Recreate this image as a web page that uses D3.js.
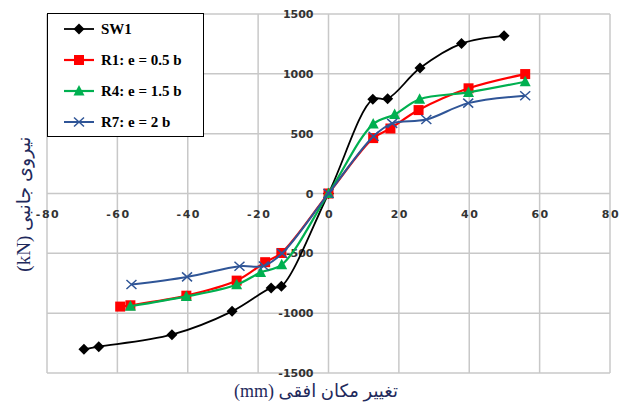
<!DOCTYPE html>
<html><head><meta charset="utf-8">
<script src="https://cdn.jsdelivr.net/npm/d3@7"></script>
<style>body{margin:0;background:#fff}svg{display:block}</style>
</head><body>
<svg id="c" width="626" height="403"></svg>
<script>
const xTicks = [-80,-60,-40,-20,0,20,40,60,80];
const yTicks = [-1500,-1000,-500,0,500,1000,1500];

const seriesNames = ["SW1","R1: e = 0.5 b","R4: e = 1.5 b","R7: e = 2 b"];
const sw1X = [-69.5,-65.3,-44.5,-27.4,-16.3,-13.4,0,12.6,16.8,26.0,37.8,49.9];
const sw1Y = [-1302,-1280,-1180,-985,-789,-775,0,787,792,1048,1253,1318];
const r1X = [-59.2,-56.3,-40.4,-26.1,-18.0,-13.4,0,12.7,17.6,25.6,39.8,55.9];
const r1Y = [-945,-934,-854,-728,-574,-497,0,463,543,697,879,998];
const r4X = [-56.3,-40.4,-26.1,-19.3,-13.3,0,12.7,18.8,25.9,39.8,55.9];
const r4Y = [-942,-860,-762,-660,-595,0,580,660,788,845,934];
const r7X = [-56.0,-40.2,-25.3,-18.4,-13.2,0,12.8,18.1,27.8,39.7,55.9];
const r7Y = [-760,-697,-608,-606,-500,0,478,586,618,755,817];

const xTitle = "تغییر مکان افقی (mm)";
const yTitle = "نیروی جانبی (kN)";

const svg = d3.select("#c");
const x = d3.scaleLinear().domain([-80,80]).range([47,610]);
const y = d3.scaleLinear().domain([-1500,1500]).range([373,14]);

// grid
const g = svg.append("g");
g.selectAll(".vx").data(xTicks).enter().append("line")
  .attr("x1",d=>x(d)).attr("x2",d=>x(d)).attr("y1",y(1500)).attr("y2",y(-1500))
  .attr("stroke","#c8c8c8").attr("stroke-width",1.5);
g.selectAll(".hy").data(yTicks).enter().append("line")
  .attr("y1",d=>y(d)).attr("y2",d=>y(d)).attr("x1",x(-80)).attr("x2",x(80))
  .attr("stroke","#c8c8c8").attr("stroke-width",1.5);

// tick labels
g.selectAll(".xl").data(xTicks).enter().append("text")
  .attr("x",d=>x(d)+1).attr("y",y(0)+24)
  .attr("text-anchor","middle")
  .attr("font-family","DejaVu Sans").attr("font-weight","bold").attr("font-size",11)
  .attr("letter-spacing",1.5)
  .attr("fill","#333").text(d=>d);
g.selectAll(".yl").data(yTicks).enter().append("text")
  .attr("x",x(0)-15).attr("y",d=>y(d)+4)
  .attr("text-anchor","end")
  .attr("font-family","DejaVu Sans").attr("font-weight","bold").attr("font-size",11)
  .attr("fill","#333").text(d=>d);

const series = [
  {name:seriesNames[0], xs:sw1X, ys:sw1Y, color:"#000000", marker:"diamond", w:1.8},
  {name:seriesNames[1], xs:r1X, ys:r1Y, color:"#ff0000", marker:"square", w:2.2},
  {name:seriesNames[2], xs:r4X, ys:r4Y, color:"#00b050", marker:"triangle", w:2.2},
  {name:seriesNames[3], xs:r7X, ys:r7Y, color:"#2f5597", marker:"x", w:2}
];

function drawMarker(sel, type, color){
  if(type==="diamond"){
    sel.append("path").attr("d","M0,-5.5L5.5,0L0,5.5L-5.5,0Z").attr("fill",color);
  } else if(type==="square"){
    sel.append("rect").attr("x",-5).attr("y",-5).attr("width",10).attr("height",10).attr("fill",color);
  } else if(type==="triangle"){
    sel.append("path").attr("d","M0,-6L5.5,4.5L-5.5,4.5Z").attr("fill",color);
  } else {
    sel.append("path").attr("d","M-5,-4.5L5,4.5M-5,4.5L5,-4.5").attr("stroke",color).attr("stroke-width",1.5).attr("fill","none");
  }
}

const line = d3.line().x(d=>x(d[0])).y(d=>y(d[1])).curve(d3.curveCatmullRom.alpha(0.5));
series.forEach(s=>{
  const pts = s.xs.map((v,i)=>[v,s.ys[i]]);
  svg.append("path").datum(pts).attr("d",line).attr("fill","none")
    .attr("stroke",s.color).attr("stroke-width",s.w);
  pts.forEach(p=>{
    const m = svg.append("g").attr("transform",`translate(${x(p[0])},${y(p[1])})`);
    drawMarker(m, s.marker, s.color);
  });
});

// legend
const lg = svg.append("g");
lg.append("rect").attr("x",47.5).attr("y",13.5).attr("width",156).attr("height",123)
  .attr("fill","#fff").attr("stroke","#000").attr("stroke-width",1);
series.forEach((s,i)=>{
  const yy = 29 + i*31;
  lg.append("line").attr("x1",64).attr("x2",94).attr("y1",yy).attr("y2",yy)
    .attr("stroke",s.color).attr("stroke-width",s.w);
  const m = lg.append("g").attr("transform",`translate(79,${yy})`);
  drawMarker(m, s.marker, s.color);
  lg.append("text").attr("x",101).attr("y",yy+5)
    .attr("font-family","Liberation Serif").attr("font-weight","bold").attr("font-size",15)
    .attr("fill","#000").text(s.name);
});

// axis titles
svg.append("text").attr("x",316).attr("y",397).attr("text-anchor","middle")
  .attr("direction","rtl")
  .attr("font-family","Liberation Serif, DejaVu Sans").attr("font-size",18)
  .attr("fill","#1f2a5c").text(xTitle);
svg.append("text").attr("transform","translate(30,204) rotate(-90)").attr("text-anchor","middle")
  .attr("direction","rtl")
  .attr("font-family","Liberation Serif, DejaVu Sans").attr("font-size",19)
  .attr("fill","#1f2a5c").text(yTitle);
</script>
</body></html>
